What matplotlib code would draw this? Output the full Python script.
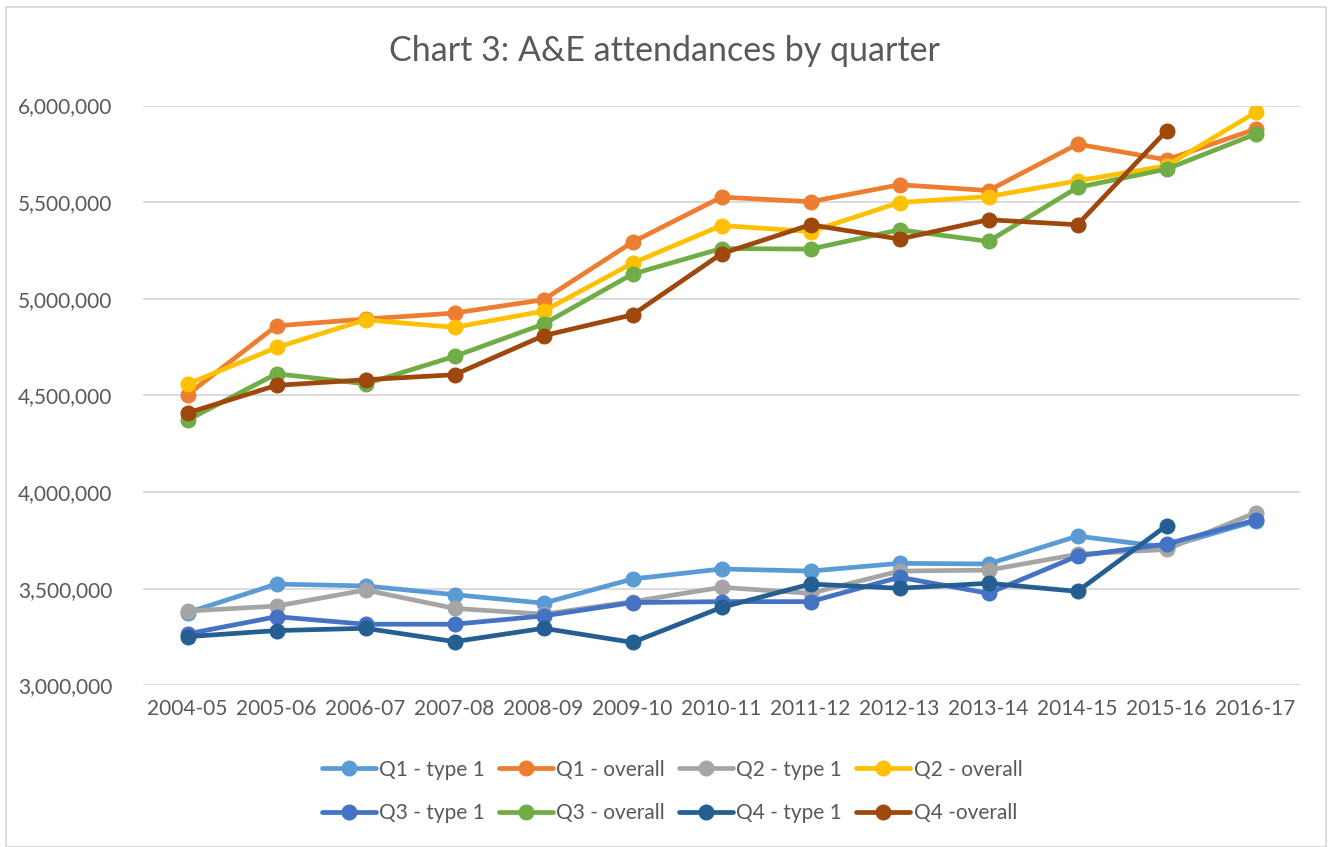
import matplotlib
matplotlib.use("Agg")
import matplotlib.pyplot as plt
from matplotlib.ticker import FuncFormatter, MultipleLocator
from matplotlib.patches import Rectangle
import numpy as np

years = ["2004-05", "2005-06", "2006-07", "2007-08", "2008-09", "2009-10", "2010-11",
         "2011-12", "2012-13", "2013-14", "2014-15", "2015-16", "2016-17"]

q1_type1 = [3376000, 3524000, 3514000, 3469000, 3425000, 3550000, 3602000,
            3591000, 3631000, 3628000, 3772000, 3715000, 3850000]
q1_overall = [4504000, 4860000, 4895000, 4926000, 4995000, 5293000, 5526000,
              5502000, 5590000, 5560000, 5800000, 5719000, 5878000]
q2_type1 = [3384000, 3410000, 3493000, 3398000, 3368000, 3433000, 3507000,
            3476000, 3591000, 3596000, 3678000, 3703000, 3893000]
q2_overall = [4558000, 4748000, 4891000, 4852000, 4936000, 5184000, 5379000,
              5348000, 5498000, 5529000, 5610000, 5688000, 5964000]
q3_type1 = [3266000, 3355000, 3316000, 3316000, 3359000, 3428000, 3433000,
            3433000, 3559000, 3476000, 3669000, 3731000, 3855000]
q3_overall = [4372000, 4612000, 4560000, 4702000, 4869000, 5128000, 5260000,
              5257000, 5357000, 5297000, 5576000, 5671000, 5852000]
q4_type1 = [3252000, 3283000, 3295000, 3226000, 3295000, 3222000, 3403000,
            3524000, 3502000, 3528000, 3486000, 3826000, None]
q4_overall = [4409000, 4552000, 4581000, 4607000, 4809000, 4917000, 5233000,
              5383000, 5309000, 5409000, 5383000, 5869000, None]

series = [
    ("Q1 - type 1", q1_type1, "#5B9BD5"),
    ("Q1 - overall", q1_overall, "#ED7D31"),
    ("Q2 - type 1", q2_type1, "#A5A5A5"),
    ("Q2 - overall", q2_overall, "#FFC000"),
    ("Q3 - type 1", q3_type1, "#4472C4"),
    ("Q3 - overall", q3_overall, "#70AD47"),
    ("Q4 - type 1", q4_type1, "#255E91"),
    ("Q4 -overall", q4_overall, "#9E480E"),
]

plt.rcParams['font.family'] = ['Lato', 'DejaVu Sans']
txt = "#595959"

fig = plt.figure(figsize=(13.28, 8.47), dpi=100)
ax = fig.add_axes([143/1328, 1-685.3/847, (1300-143)/1328, (685.3-105.5)/847])

x = np.arange(len(years))
handles = []
for name, vals, col in series:
    y = np.array([np.nan if v is None else v for v in vals], dtype=float)
    h, = ax.plot(x, y, color=col, lw=3.4, marker='o', markersize=10.5,
                 label=name, solid_capstyle='round', solid_joinstyle='round')
    handles.append(h)

ax.set_xlim(-0.5, len(years) - 0.5)
ax.set_ylim(3000000, 6000000)
ax.yaxis.set_major_locator(MultipleLocator(500000))
ax.yaxis.set_major_formatter(FuncFormatter(lambda v, p: f"{int(v):,}"))
ax.set_xticks(x)
ax.set_xticklabels(years)
ax.grid(axis='y', color='#D9D9D9', lw=1.3)
ax.set_axisbelow(True)
for s in ax.spines.values():
    s.set_visible(False)
ax.tick_params(axis='both', length=0, colors=txt, labelsize=15)
ax.tick_params(axis='y', pad=22)
ax.tick_params(axis='x', pad=10)

fig.text(0.5, 1-51/847, "Chart 3: A&E attendances by quarter", ha='center', va='center',
         fontsize=24.5, color=txt)

# row-major legend order for 2 rows x 4 columns
order = [0, 4, 1, 5, 2, 6, 3, 7]
leg = fig.legend([handles[i] for i in order], [series[i][0] for i in order],
                 loc='center', bbox_to_anchor=(0.506, 1-791.5/847), ncol=4, frameon=False,
                 fontsize=15, handlelength=2.6, columnspacing=0.68, handletextpad=0.15,
                 labelspacing=1.15)
for t in leg.get_texts():
    t.set_color(txt)

fig.patches.append(Rectangle((6/1328, 0), 1320/1328, 1-7/847, transform=fig.transFigure,
                             fill=False, edgecolor='#D9D9D9', lw=1.3))

fig.savefig("out.png", dpi=100, facecolor='white')
